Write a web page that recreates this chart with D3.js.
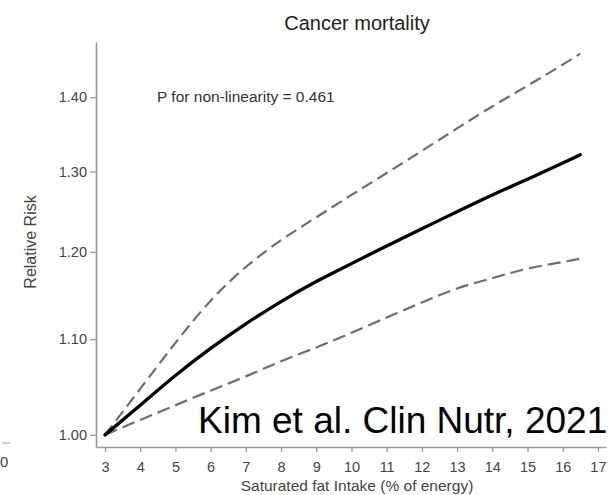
<!DOCTYPE html>
<html>
<head>
<meta charset="utf-8">
<script src="https://cdn.jsdelivr.net/npm/d3@7"></script>
<style>
  html, body { margin: 0; padding: 0; background: #fff; }
  svg { display: block; }
  text { font-family: "Liberation Sans", Arial, sans-serif; }
</style>
</head>
<body>
<svg id="chart" width="615" height="495"></svg>
<script>
// ---- data ----
const intake = [3, 4, 5, 6, 7, 8, 9, 10, 11, 12, 13, 14, 15, 16, 16.5];
const rrEstimate = [1.000, 1.030, 1.061, 1.090, 1.117, 1.142, 1.165, 1.186, 1.207, 1.228, 1.249, 1.270, 1.290, 1.311, 1.322];
const rrUpper    = [1.000, 1.047, 1.096, 1.143, 1.182, 1.214, 1.242, 1.270, 1.298, 1.327, 1.357, 1.387, 1.416, 1.446, 1.462];
const rrLower    = [1.000, 1.015, 1.030, 1.045, 1.060, 1.076, 1.091, 1.107, 1.124, 1.141, 1.157, 1.169, 1.180, 1.188, 1.192];
const xTicks = [3, 4, 5, 6, 7, 8, 9, 10, 11, 12, 13, 14, 15, 16, 17];
const yTicks = [1.0, 1.1, 1.2, 1.3, 1.4];
const titleText = "Cancer mortality";
const xLabel = "Saturated fat Intake (% of energy)";
const yLabel = "Relative Risk";
const noteText = "P for non-linearity = 0.461";
const sourceText = "Kim et al. Clin Nutr, 2021";

const svg = d3.select("#chart");

const x = d3.scaleLinear().domain([2.744, 17.23]).range([96, 606]);
const y = d3.scaleLog().domain([0.988, 1.479]).range([447, 42]);

// stray fragment of a neighbouring panel at the left edge
svg.append("line").attr("x1", 2).attr("x2", 10).attr("y1", 443).attr("y2", 443)
  .attr("stroke", "#999").attr("stroke-width", 1);
svg.append("text").attr("x", 0).attr("y", 467).attr("font-size", 15).attr("fill", "#444").text("0");

// axes
const xAxis = svg.append("g").attr("transform", "translate(0,447)")
  .call(d3.axisBottom(x).tickValues(xTicks).tickFormat(d3.format("d")).tickSize(5).tickSizeOuter(0).tickPadding(10));
const yAxis = svg.append("g").attr("transform", "translate(96,0)")
  .call(d3.axisLeft(y).tickValues(yTicks).tickFormat(d3.format(".2f")).tickSize(6).tickSizeOuter(0).tickPadding(3));

[xAxis, yAxis].forEach(g => {
  g.select(".domain").attr("stroke", "#9a9a9a").attr("stroke-width", 1.6);
  g.selectAll(".tick line").attr("stroke", "#9a9a9a").attr("stroke-width", 1.3);
  g.selectAll(".tick text").attr("fill", "#444").attr("font-size", 14.5)
    .attr("font-family", "Liberation Sans, Arial, sans-serif");
});

// curves
const pts = vals => intake.map((d, i) => [d, vals[i]]);
const line = d3.line().x(d => x(d[0])).y(d => y(d[1])).curve(d3.curveNatural);

svg.append("path").datum(pts(rrUpper)).attr("d", line)
  .attr("fill", "none").attr("stroke", "#6e6e6e").attr("stroke-width", 2.2)
  .attr("stroke-dasharray", "12,6");
svg.append("path").datum(pts(rrLower)).attr("d", line)
  .attr("fill", "none").attr("stroke", "#6e6e6e").attr("stroke-width", 2.2)
  .attr("stroke-dasharray", "13,6");
svg.append("path").datum(pts(rrEstimate)).attr("d", line)
  .attr("fill", "none").attr("stroke", "#000").attr("stroke-width", 3.3)
  .attr("stroke-linecap", "round");

// texts
svg.append("text").attr("x", 357).attr("y", 30).attr("text-anchor", "middle")
  .attr("font-size", 20).attr("fill", "#222").text(titleText);
svg.append("text").attr("x", 157).attr("y", 102)
  .attr("font-size", 15.5).attr("fill", "#333").text(noteText);
svg.append("text").attr("x", 357).attr("y", 491).attr("text-anchor", "middle")
  .attr("font-size", 15.5).attr("fill", "#444").text(xLabel);
svg.append("text").attr("transform", "translate(36,242) rotate(-90)").attr("text-anchor", "middle")
  .attr("font-size", 16).attr("fill", "#444").text(yLabel);
svg.append("text").attr("x", 198).attr("y", 433)
  .attr("font-size", 37).attr("fill", "#000").text(sourceText);
</script>
</body>
</html>
